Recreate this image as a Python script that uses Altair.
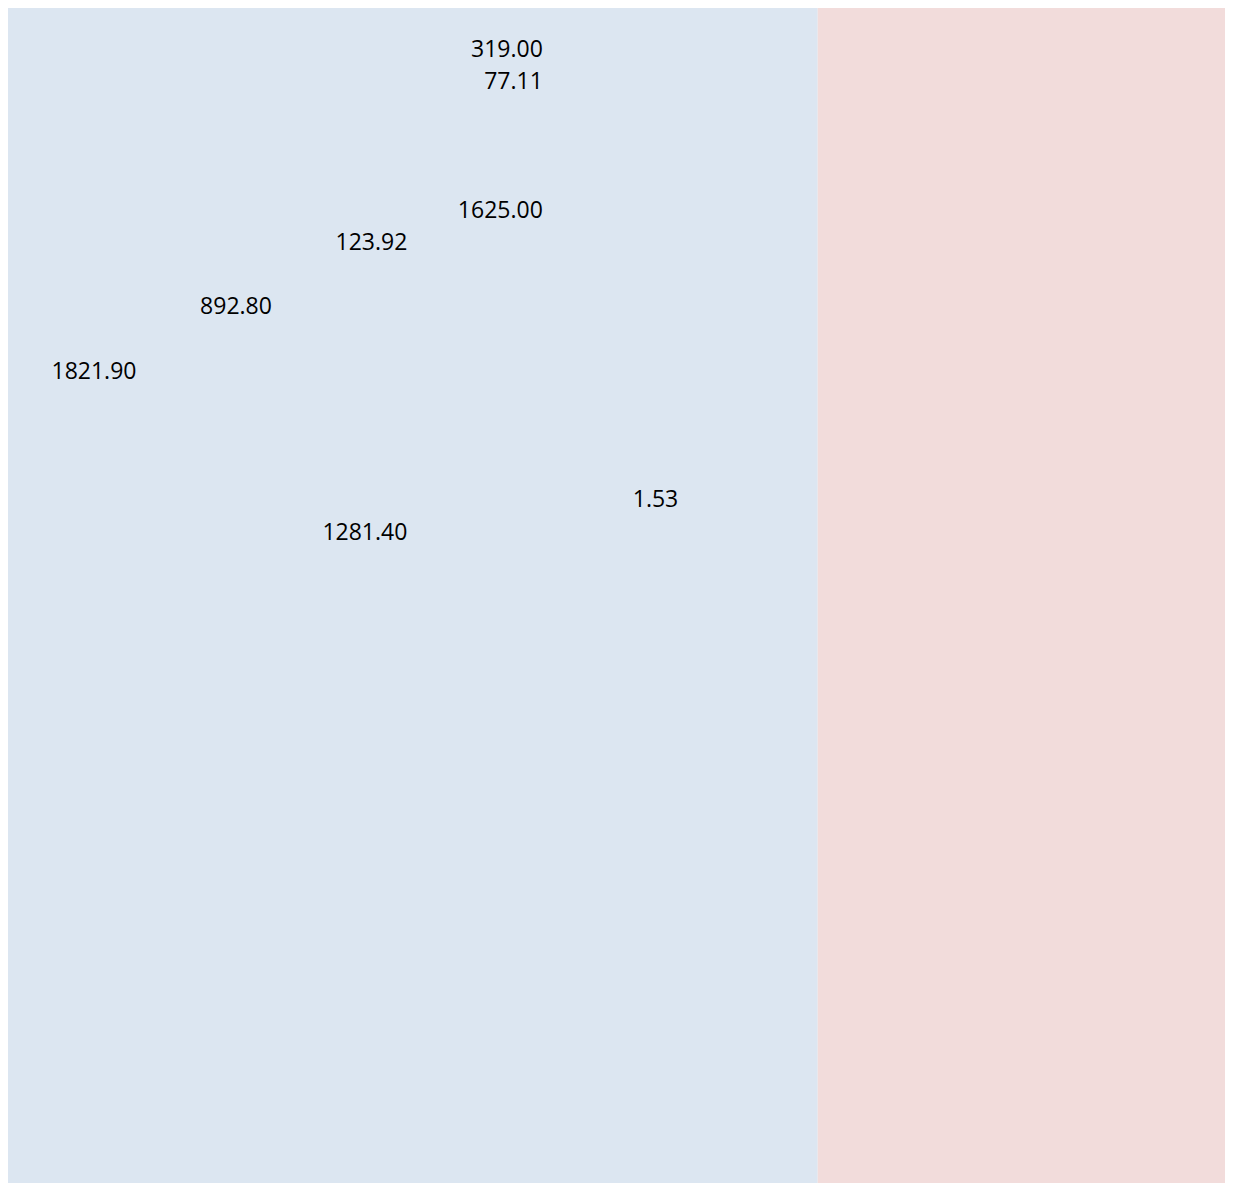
import altair as alt
import pandas as pd

# cell values (column index, row index, value)
values = [319.00, 77.11, 1625.00, 123.92, 892.80, 1821.90, 1.53, 1281.40]
cols = [3, 3, 3, 2, 1, 0, 4, 2]
rows = [0, 1, 5, 6, 8, 10, 14, 15]

# shaded column bands
band_names = ["left", "right"]
band_start = [0, 6]
band_end = [6, 9.2]
band_colors = ["#DCE6F1", "#F2DCDB"]

cells = pd.DataFrame({"col": cols, "row": rows, "value": values})
cells["xr"] = cells["col"] + 1
cells["yc"] = cells["row"] + 0.5

bands = pd.DataFrame({"band": band_names, "x": band_start, "x2": band_end,
                      "y": [-1] * 2, "y2": [37] * 2})

W, H = 1217, 1175
xs = alt.Scale(domain=[0.02215, 9.0070], nice=False, zero=False)
ys = alt.Scale(domain=[-0.6957, 35.795], nice=False, zero=False, reverse=True)

bg = alt.Chart(bands).mark_rect(clip=True).encode(
    x=alt.X("x:Q", scale=xs, axis=None),
    x2="x2:Q",
    y=alt.Y("y:Q", scale=ys, axis=None),
    y2="y2:Q",
    color=alt.Color("band:N", scale=alt.Scale(domain=band_names, range=band_colors), legend=None),
)

txt = alt.Chart(cells).mark_text(
    align="right", baseline="middle", dx=-4, dy=3,
    font="Open Sans", fontSize=23, color="#000000",
).encode(
    x=alt.X("xr:Q", scale=xs, axis=None),
    y=alt.Y("yc:Q", scale=ys, axis=None),
    text=alt.Text("value:Q", format=".2f"),
)

chart = alt.layer(bg, txt).properties(
    width=W, height=H, padding=0
).configure_view(stroke=None)

chart.save("out.html", embed_options={"renderer": "svg", "actions": False})
